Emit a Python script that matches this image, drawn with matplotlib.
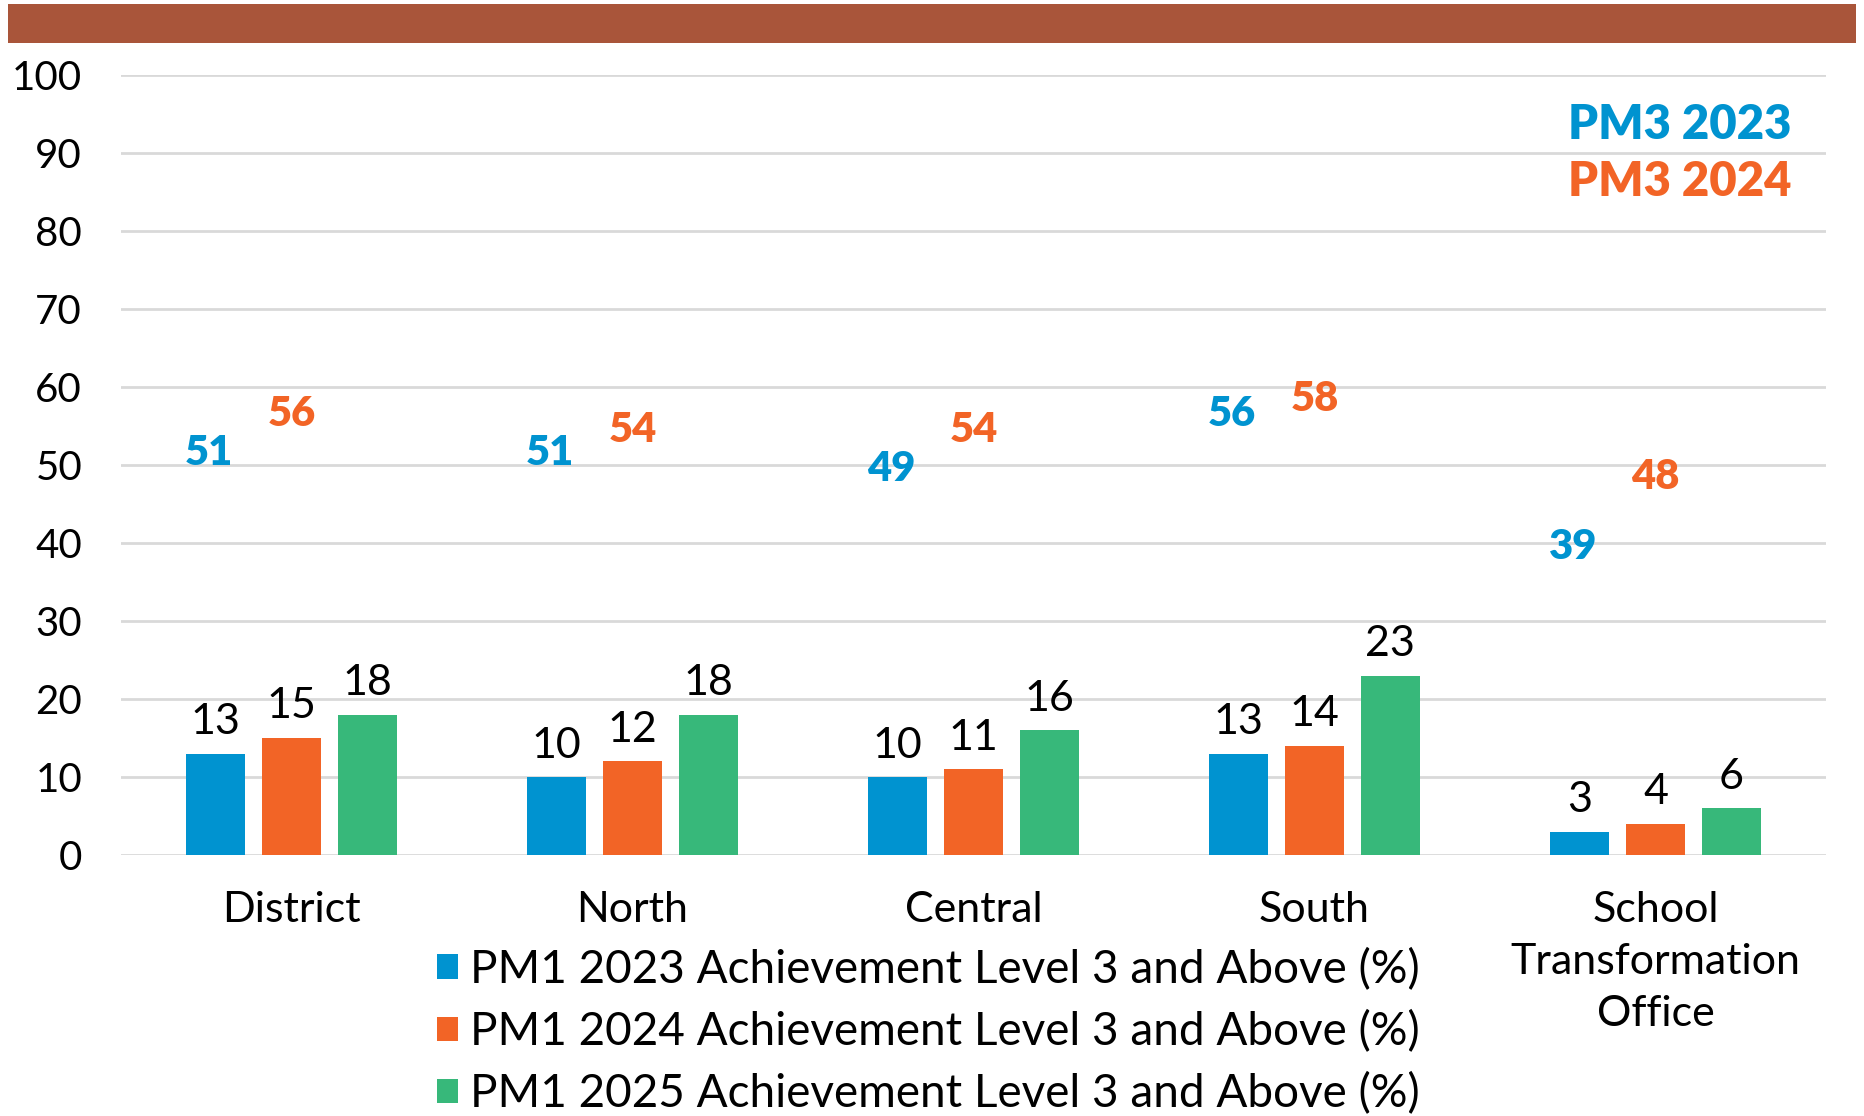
#!/usr/bin/env python3
"""
PM1 achievement bars by region, with PM3 reference values written above.
"""

import matplotlib.pyplot as plt
from matplotlib.patches import Rectangle
import numpy as np

plt.rcParams["font.family"] = ["Lato", "DejaVu Sans"]

# Data
categories = ["District", "North", "Central", "South", "School\nTransformation\nOffice"]
series_labels = [
    "PM1 2023 Achievement Level 3 and Above (%)",
    "PM1 2024 Achievement Level 3 and Above (%)",
    "PM1 2025 Achievement Level 3 and Above (%)",
]
pm1_2023 = [13, 10, 10, 13, 3]
pm1_2024 = [15, 12, 11, 14, 4]
pm1_2025 = [18, 18, 16, 23, 6]
pm3_2023 = [51, 51, 49, 56, 39]
pm3_2024 = [56, 54, 54, 58, 48]
y_ticks = [0, 10, 20, 30, 40, 50, 60, 70, 80, 90, 100]

# Style constants
BLUE = "#0093D0"
ORANGE = "#F26426"
GREEN = "#37B87A"
BANNER = "#A9553A"
GRID = "#D9D9D9"
TEXT = "#000000"
FS = 31

W_PX, H_PX = 1865, 1116


def main() -> None:
    fig = plt.figure(figsize=(W_PX / 100, H_PX / 100), dpi=100)
    fig.patch.set_facecolor("white")

    # banner across the top
    fig.patches.append(
        Rectangle((8 / W_PX, 1 - 43 / H_PX), 1848 / W_PX, 39 / H_PX,
                  transform=fig.transFigure, facecolor=BANNER, edgecolor="none")
    )

    ax = fig.add_axes([121 / W_PX, 1 - 855 / H_PX, 1705 / W_PX, 780 / H_PX])
    x = np.arange(len(categories))
    step = 0.222
    width = 0.173
    colors = [BLUE, ORANGE, GREEN]
    bars = []
    for i, vals in enumerate([pm1_2023, pm1_2024, pm1_2025]):
        b = ax.bar(x + (i - 1) * step, vals, width, color=colors[i],
                   label=series_labels[i], zorder=3)
        bars.append(b)
        for xi, v in zip(x + (i - 1) * step, vals):
            ax.annotate(str(v), (xi, v), xytext=(0, 9), textcoords="offset points",
                        ha="center", va="bottom", fontsize=FS, color=TEXT)

    # PM3 values written above the bars
    for xi, v in zip(x - step, pm3_2023):
        ax.text(xi - 0.02, v + 0.5, str(v), ha="center", va="center", fontsize=30,
                fontweight="heavy", color=BLUE, zorder=4)
    for xi, v in zip(x, pm3_2024):
        ax.text(xi, v + 0.5, str(v), ha="center", va="center", fontsize=30,
                fontweight="heavy", color=ORANGE, zorder=4)

    ax.text(0.98, 0.936, "PM3 2023", transform=ax.transAxes, ha="right", va="center",
            fontsize=34, fontweight="heavy", color=BLUE)
    ax.text(0.98, 0.863, "PM3 2024", transform=ax.transAxes, ha="right", va="center",
            fontsize=34, fontweight="heavy", color=ORANGE)

    ax.set_xlim(-0.5, len(categories) - 0.5)
    ax.set_ylim(0, 100)
    ax.set_yticks(y_ticks)
    ax.set_xticks(x)
    ax.set_xticklabels(categories, fontsize=FS, linespacing=1.45)
    ax.tick_params(axis="y", length=0, pad=28, labelsize=29, labelcolor=TEXT)
    ax.tick_params(axis="x", length=0, pad=26, labelcolor=TEXT)
    for lab in ax.get_xticklabels():
        lab.set_verticalalignment("top")
    ax.grid(axis="y", color=GRID, linewidth=2, zorder=0)
    for s in ax.spines.values():
        s.set_visible(False)

    fig.legend(handles=bars, labels=series_labels, loc="upper left",
               bbox_to_anchor=(437 / W_PX, 1 - 948 / H_PX), frameon=False,
               fontsize=33, handlelength=0.45, handleheight=0.45,
               handletextpad=0.27, labelspacing=0.42, borderpad=0, borderaxespad=0)

    fig.savefig("out.png", dpi=100, facecolor="white")
    plt.close(fig)


if __name__ == "__main__":
    main()
